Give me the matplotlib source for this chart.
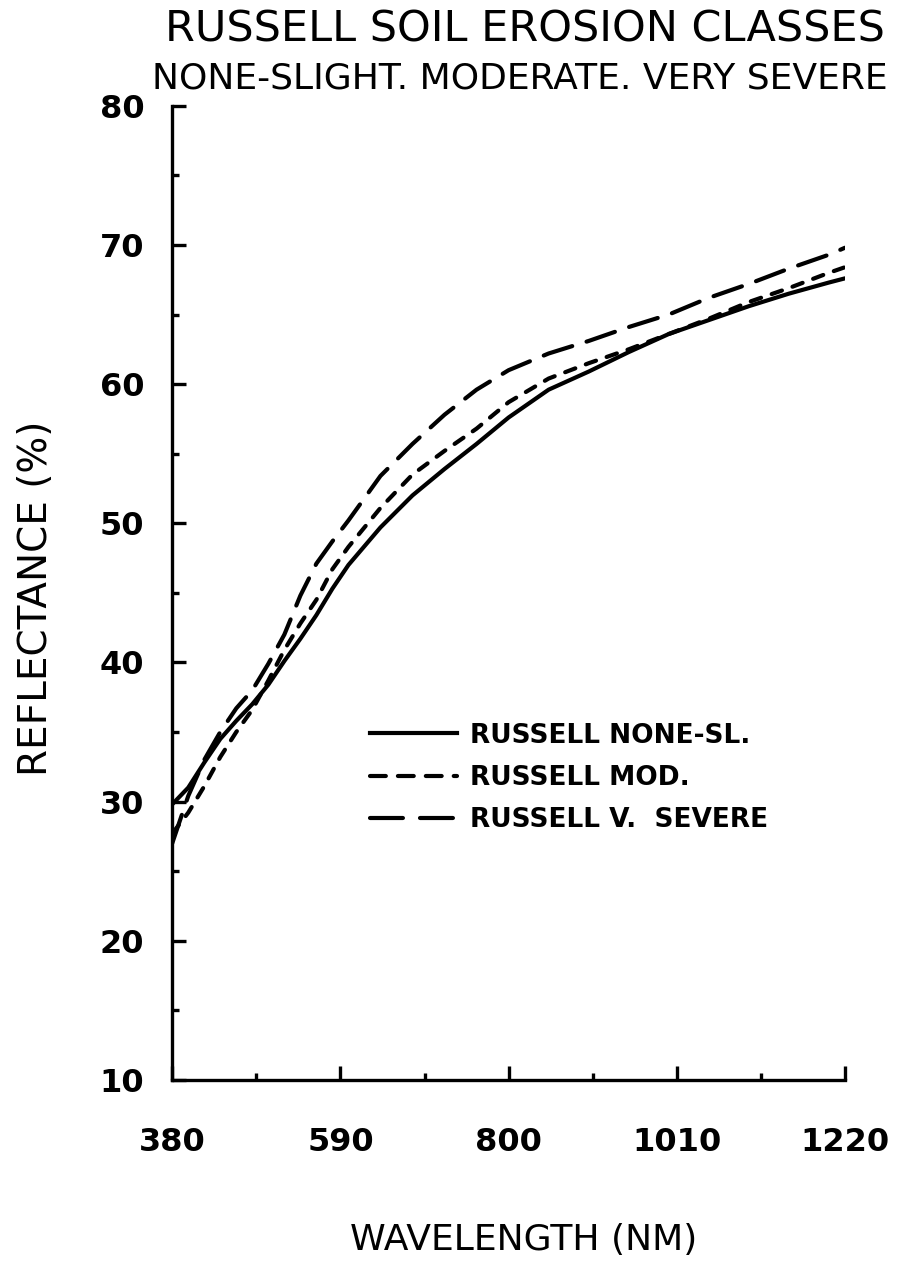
import matplotlib
matplotlib.use('Agg')
import matplotlib.pyplot as plt
from matplotlib.lines import Line2D
from matplotlib.ticker import FixedLocator, MultipleLocator

# values (reflectance in %)
WAVELENGTH = [380, 400, 420, 440, 460, 480, 500, 520, 540, 560, 580, 600, 640,
              680, 720, 760, 800, 850, 900, 950, 1000, 1050, 1100, 1150, 1200, 1220]
NONE_SLIGHT = [29.8, 31.0, 32.8, 34.5, 35.8, 37.0, 38.4, 40.1, 41.7, 43.4, 45.3, 47.0, 49.7,
               52.0, 53.9, 55.7, 57.6, 59.6, 60.9, 62.3, 63.6, 64.6, 65.6, 66.5, 67.3, 67.6]
MODERATE = [27.7, 29.2, 31.1, 33.2, 35.0, 36.6, 38.7, 40.9, 42.8, 44.5, 46.7, 48.3, 51.1,
            53.5, 55.2, 56.8, 58.7, 60.4, 61.5, 62.5, 63.6, 64.7, 65.9, 66.9, 68.0, 68.4]
VERY_SEVERE = [27.0, 30.4, 33.0, 35.0, 36.7, 38.0, 39.9, 42.0, 44.8, 47.1, 48.7, 50.2, 53.4,
               55.7, 57.8, 59.6, 61.0, 62.2, 63.1, 64.1, 65.0, 66.2, 67.2, 68.3, 69.3, 69.8]

SERIES_LABELS = ['RUSSELL NONE-SL.', 'RUSSELL MOD.', 'RUSSELL V.  SEVERE']
X_TICKS = [380, 590, 800, 1010, 1220]
X_MINOR = [485, 695, 905, 1115]
Y_TICKS = [10, 20, 30, 40, 50, 60, 70, 80]

FONT = 'DejaVu Sans'
LW = 3.0
SHORT_DASH = (2.6, 2.7)
LONG_DASH = (7.2, 3.6)


def main():
    fig = plt.figure(figsize=(8.97, 12.84), dpi=100)
    ax = fig.add_axes([0.192, 0.159, 0.750, 0.7586])

    ax.plot(WAVELENGTH, NONE_SLIGHT, color='black', lw=LW, solid_capstyle='round')
    ax.plot(WAVELENGTH, MODERATE, color='black', lw=LW, dashes=SHORT_DASH,
            dash_capstyle='round')
    ax.plot(WAVELENGTH, VERY_SEVERE, color='black', lw=LW, dashes=LONG_DASH,
            dash_capstyle='round')

    ax.set_xlim(380, 1220)
    ax.set_ylim(10, 80)

    # plotter style axes: only left and bottom, ticks pointing inwards
    for side in ['top', 'right']:
        ax.spines[side].set_visible(False)
    for side in ['left', 'bottom']:
        ax.spines[side].set_linewidth(2.4)

    ax.set_xticks(X_TICKS)
    ax.set_yticks(Y_TICKS)
    ax.xaxis.set_minor_locator(FixedLocator(X_MINOR))
    ax.yaxis.set_minor_locator(MultipleLocator(5))
    ax.tick_params(which='both', direction='in', width=2.4, top=False, right=False)
    ax.tick_params(which='major', length=10)
    ax.tick_params(which='minor', length=5)
    ax.tick_params(axis='y', which='major', pad=20)
    ax.tick_params(axis='x', which='major', pad=34)
    for lab in ax.get_xticklabels() + ax.get_yticklabels():
        lab.set_fontfamily(FONT)
        lab.set_fontweight('bold')
        lab.set_fontsize(23)

    # legend handles drawn with the plotter's legend dash lengths
    handles = [
        Line2D([], [], color='black', lw=LW),
        Line2D([], [], color='black', lw=LW, dashes=(3.8, 2.9), dash_capstyle='round'),
        Line2D([], [], color='black', lw=LW, dashes=(7.9, 4.1), dash_capstyle='round'),
    ]
    ax.legend(handles, SERIES_LABELS, loc='center left', bbox_to_anchor=(0.412, 0.3941),
              bbox_transform=fig.transFigure, frameon=False,
              prop={'family': FONT, 'weight': 'bold', 'size': 19},
              handlelength=3.3, handletextpad=0.5, labelspacing=0.62,
              borderpad=0, borderaxespad=0)

    fig.text(0.585, 0.977, 'RUSSELL SOIL EROSION CLASSES', family=FONT,
             fontsize=31, ha='center', va='center')
    fig.text(0.58, 0.939, 'NONE-SLIGHT. MODERATE. VERY SEVERE', family=FONT,
             fontsize=26, ha='center', va='center')
    fig.text(0.04, 0.534, 'REFLECTANCE (%)', family=FONT, fontsize=28,
             rotation=90, ha='center', va='center')
    fig.text(0.584, 0.034, 'WAVELENGTH (NM)', family=FONT, fontsize=26,
             ha='center', va='center')

    fig.savefig('out.png', dpi=100, facecolor='white')


if __name__ == '__main__':
    main()
